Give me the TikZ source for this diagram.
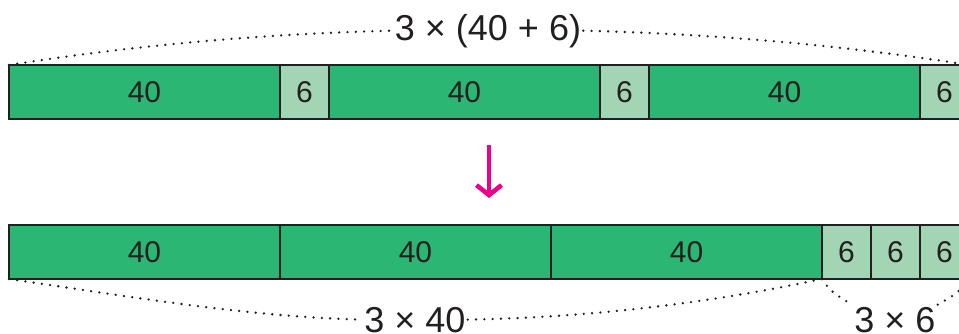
\documentclass[tikz,border=0pt]{standalone}
\usepackage{fontspec}
\setmainfont{Liberation Sans}
\usetikzlibrary{positioning,arrows.meta}

\definecolor{bargreen}{RGB}{43,182,115}
\definecolor{partgreen}{RGB}{162,213,179}
\definecolor{arrowpink}{RGB}{236,0,140}
\definecolor{inkgray}{RGB}{35,31,32}

\tikzset{
	part/.style={draw=inkgray, line width=1.3pt, minimum height=54pt, inner sep=0pt,
		outer sep=0pt, text=inkgray, font=\fontsize{30}{30}\selectfont, anchor=west},
	forty/.style={part, fill=bargreen, minimum width=271pt},
	six/.style={part, fill=partgreen, minimum width=49pt},
	span/.style={inkgray, line width=2.6pt, dash pattern=on 0pt off 8.3pt, line cap=round},
	total/.style={text=inkgray, font=\fontsize{36}{36}\selectfont, inner sep=2pt, anchor=base}
}

\begin{document}
\begin{tikzpicture}[x=1pt, y=-1pt]
		\useasboundingbox (0,0) rectangle (959,333);
		\clip (0,0) rectangle (959,333);
		
		% Top bar: 40 + 6, three times
		\node[forty] (t1) at (9,92) {40};
		\node[six, right=0pt of t1] (t2) {6};
		\node[forty, right=0pt of t2] (t3) {40};
		\node[six, right=0pt of t3] (t4) {6};
		\node[forty, right=0pt of t4] (t5) {40};
		\node[six, right=0pt of t5] (t6) {6};
		
		% Bottom bar: 40s first, then 6s
		\node[forty] (b1) at (9,252) {40};
		\node[forty, right=0pt of b1] (b2) {40};
		\node[forty, right=0pt of b2] (b3) {40};
		\node[six, right=0pt of b3] (b4) {6};
		\node[six, right=0pt of b4] (b5) {6};
		\node[six, right=0pt of b5] (b6) {6};
		
		% Totals
		\node[total] (topsum) at (488,40) {3 × (40 + 6)};
		\node[total] (fortysum) at (415,332) {3 × 40};
		\node[total] (sixsum) at (895,332) {3 × 6};
		
		% Dotted spans
		\draw[span] (t1.north west) .. controls +(127,-20) and +(-127,3) .. (topsum.west);
		\draw[span] (topsum.east) .. controls +(127,3) and +(-127,-20) .. (t6.north east);
		\draw[span] (b1.south west) .. controls +(118,17) and +(-118,-3) .. (fortysum.west);
		\draw[span] (fortysum.east) .. controls +(117,-2) and +(-117,25) .. (b4.south west);
		\draw[span] (b4.south west) .. controls +(8,14) and +(-8,-5) .. (sixsum.north west);
		\draw[span] (sixsum.north east) .. controls +(8,-5) and +(-8,14) .. (b6.south east);
		
		% Arrow between the bars
		\coordinate (from) at (489,145);
		\coordinate (to) at (489,198);
		\draw[arrowpink, line width=4.5pt, -{Straight Barb[length=10pt,width=25pt]}] (from) -- (to);
	\end{tikzpicture}
\end{document}
